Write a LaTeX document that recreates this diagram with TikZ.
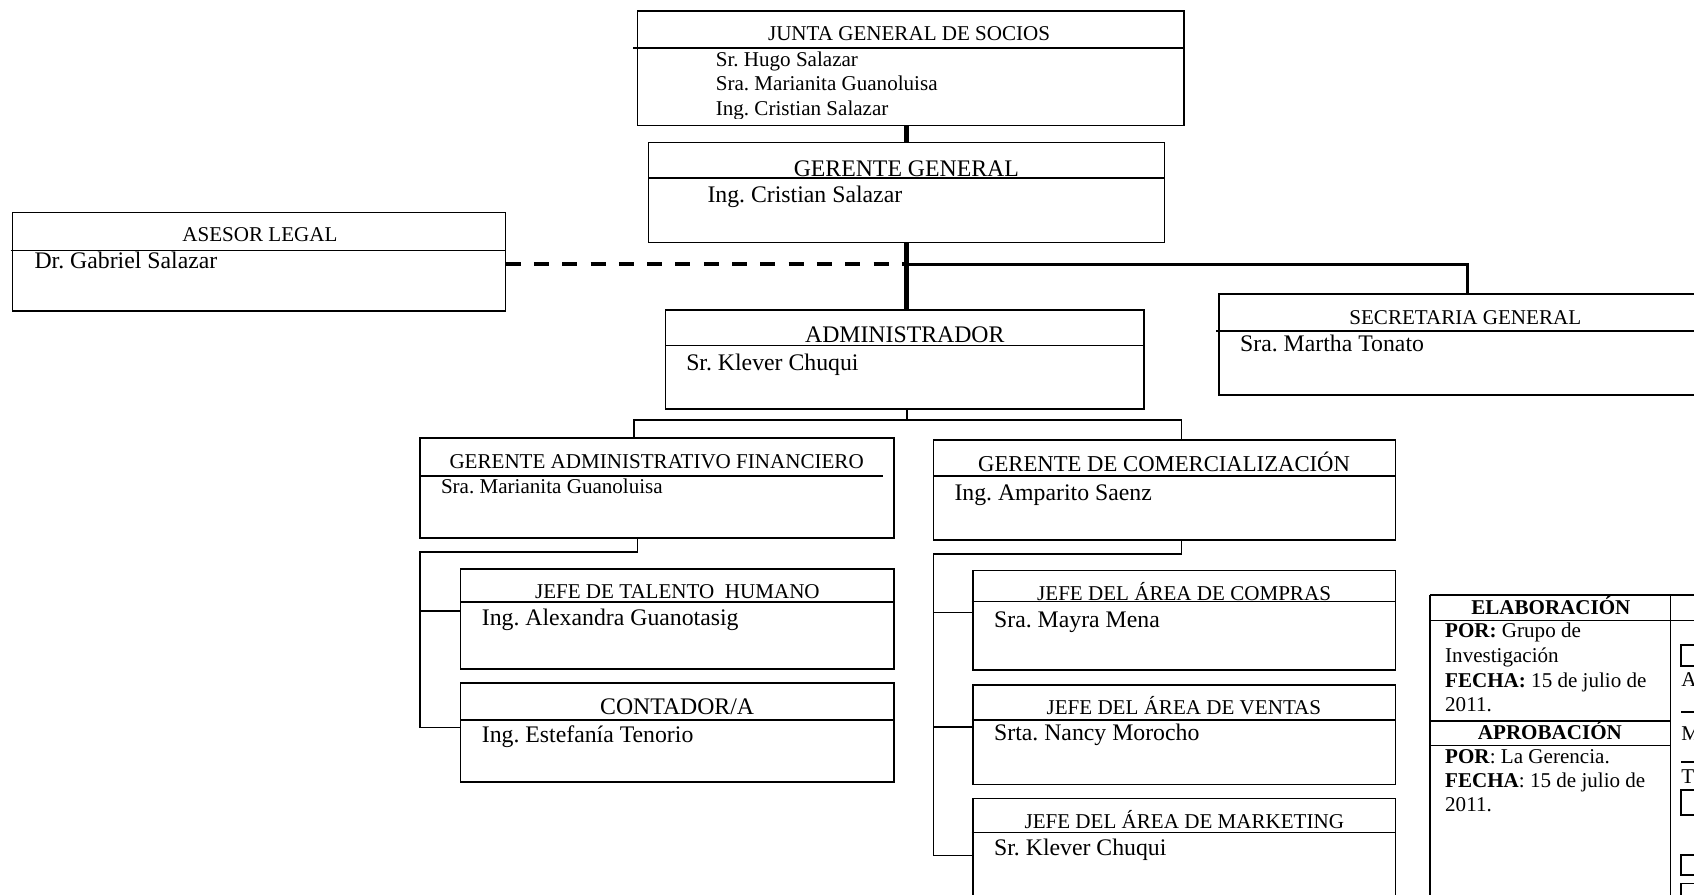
\documentclass[tikz,border=0pt]{standalone}
\usepackage{fontspec}
\setmainfont{Liberation Serif}
\usetikzlibrary{fit}
\frenchspacing
\newcommand\fsA{\fontsize{19.5}{22.4}\selectfont\frenchspacing}
\newcommand\fsB{\fontsize{22}{25.3}\selectfont\frenchspacing}
\newcommand\fsC{\fontsize{21}{24.2}\selectfont\frenchspacing}
\begin{document}
\begin{tikzpicture}[x=1pt,y=-1pt,
  orgbox/.style={draw, line width=1.5pt, inner sep=0pt, outer sep=0pt},
  rule/.style={line width=1.5pt},
  thinlink/.style={line width=1.5pt, line join=miter},
  heavylink/.style={line width=4.3pt},
  medlink/.style={line width=2.7pt, line join=miter},
  dashlink/.style={line width=3.7pt, dash pattern=on 13.9pt off 12.3pt},
  ttl/.style={anchor=base, inner sep=0pt, font=\fsA},
  ttlB/.style={anchor=base, inner sep=0pt, font=\fsB},
  nm/.style={anchor=base west, inner sep=0pt, font=\fsA},
  nmB/.style={anchor=base west, inner sep=0pt, font=\fsB},
  tbl/.style={line width=1.5pt}]
\useasboundingbox (0,0) rectangle (1568,828);
\fill[white] (0,0) rectangle (1568,828);
\clip (0,0) rectangle (1568,828);

% ---------- boxes ----------
\node[orgbox, fit={(589.9,10.2) (1095.9,116.3)}] (junta) {};
\node[orgbox, fit={(600.1,132) (1077.7,224.3)}] (gg) {};
\node[orgbox, fit={(11.7,196.8) (468,287.9)}] (asesor) {};
\node[orgbox, fit={(616.1,286.9) (1058.9,378.6)}] (admin) {};
\node[orgbox, fit={(1128.3,272) (1588.7,365.6)}] (sec) {};
\node[orgbox, fit={(389,405.6) (827.5,498)}] (gaf) {};
\node[orgbox, fit={(863.9,407.3) (1291.8,499.8)}] (gc) {};
\node[orgbox, fit={(426.4,526.7) (827.5,619)}] (jth) {};
\node[orgbox, fit={(426.4,632) (827.5,724)}] (cont) {};
\node[orgbox, fit={(900.9,528.2) (1291.8,620.1)}] (jac) {};
\node[orgbox, fit={(900.9,634) (1291.8,726)}] (jav) {};
\node[orgbox, fit={(900.9,739) (1291.8,870)}] (jam) {};

% ---------- dividers ----------
\draw[rule] (586.2,44.7) -- (junta.east |- 0,44.7);
\draw[rule] (gg.west |- 0,165) -- (gg.east |- 0,165);
\draw[rule] (9.9,232) -- (asesor.east |- 0,232);
\draw[rule] (admin.west |- 0,319.9) -- (admin.east |- 0,319.9);
\draw[rule] (1126,306.4) -- (1600,306.4);
\draw[rule] (gaf.west |- 0,440.6) -- (817,440.6);
\draw[rule] (gc.west |- 0,440.3) -- (gc.east |- 0,440.3);
\draw[rule] (jth.west |- 0,557) -- (jth.east |- 0,557);
\draw[rule] (cont.west |- 0,666.4) -- (cont.east |- 0,666.4);
\draw[rule] (899.4,556.9) -- (jac.east |- 0,556.9);
\draw[rule] (899.4,666.4) -- (jav.east |- 0,666.4);
\draw[rule] (899.4,770.7) -- (jam.east |- 0,770.7);

% ---------- texts ----------
\node[ttl] (t-junta) at (841.5,37.6) {JUNTA GENERAL DE SOCIOS};
\begin{scope}
\clip (589,46) rectangle (1096,109.5);
\node[nm] (n-junta1) at (662.4,61.5) {Sr. Hugo Salazar};
\node[nm] (n-junta2) at (662.4,84) {Sra. Marianita Guanoluisa};
\node[nm] (n-junta3) at (662.4,106.5) {Ing. Cristian Salazar};
\end{scope}
\node[ttlB] (t-gg) at (838.9,163) {GERENTE GENERAL};
\node[nmB] (n-gg) at (654.7,187.3) {Ing. Cristian Salazar};
\node[ttl] (t-asesor) at (240.6,223.7) {ASESOR LEGAL};
\node[nmB] (n-asesor) at (31.8,248.4) {Dr. Gabriel Salazar};
\node[ttlB] (t-admin) at (837.5,317.2) {ADMINISTRADOR};
\node[nmB] (n-admin) at (635,343) {Sr. Klever Chuqui};
\node[ttl] (t-sec) at (1356.3,300) {SECRETARIA GENERAL};
\node[nmB] (n-sec) at (1147.7,325) {Sra. Martha Tonato};
\node[ttl] (t-gaf) at (607.8,433.5) {GERENTE ADMINISTRATIVO FINANCIERO};
\node[nm] (n-gaf) at (408,456.6) {Sra. Marianita Guanoluisa};
\node[anchor=base, inner sep=0pt, font=\fsC] (t-gc) at (1077.5,436.6) {GERENTE DE COMERCIALIZACIÓN};
\node[nmB] (n-gc) at (883.3,463.4) {Ing. Amparito Saenz};
\node[ttl] (t-jth) at (627,553.8) {JEFE DE TALENTO\ \ HUMANO};
\node[nmB] (n-jth) at (445.8,579.4) {Ing. Alexandra Guanotasig};
\node[ttlB] (t-cont) at (626.8,661.8) {CONTADOR/A};
\node[nmB] (n-cont) at (445.8,687) {Ing. Estefanía Tenorio};
\node[ttl] (t-jac) at (1096,555.4) {JEFE DEL ÁREA DE COMPRAS};
\node[nmB] (n-jac) at (920,581) {Sra. Mayra Mena};
\node[ttl] (t-jav) at (1095.8,661) {JEFE DEL ÁREA DE VENTAS};
\node[nmB] (n-jav) at (920,685.6) {Srta. Nancy Morocho};
\node[ttl] (t-jam) at (1096.2,766.7) {JEFE DEL ÁREA DE MARKETING};
\node[nmB] (n-jam) at (920,792) {Sr. Klever Chuqui};

% ---------- connectors ----------
\coordinate (hub) at (838.9,244.7);
\draw[heavylink] (gg.north) -- (gg.north |- junta.south);
\draw[heavylink] (gg.south) -- (gg.south |- admin.north);
\draw[medlink] (hub) -| (sec.north);
\draw[dashlink] (asesor.east |- hub) -- (hub);

\coordinate (abus) at (839.8,388.7);
\coordinate (gafin) at (587,388.7);
\coordinate (gcin) at (1093.7,388.7);
\draw[thinlink] (abus |- admin.south) -- (abus);
\draw[thinlink] (gafin |- gaf.north) -- (gafin) -- (gcin) -- (gcin |- gc.north);

\coordinate (gafo) at (590,511);
\coordinate (gafbus) at (389,511);
\coordinate (b1) at (389,565.5);
\coordinate (b2) at (389,673.5);
\draw[thinlink] (gafo |- gaf.south) -- (gafo) -- (gafbus) -- (b2) -- (b2 -| cont.west);
\draw[thinlink] (b1) -- (b1 -| jth.west);

\coordinate (gco) at (1093.7,512.8);
\coordinate (gcbus) at (864,512.8);
\coordinate (c1) at (864,566.8);
\coordinate (c2) at (864,673.2);
\coordinate (c3) at (864,792);
\draw[thinlink] (gco |- gc.south) -- (gco) -- (gcbus) -- (c3) -- (c3 -| jam.west);
\draw[thinlink] (c1) -- (c1 -| jac.west);
\draw[thinlink] (c2) -- (c2 -| jav.west);

% ---------- table ----------
\draw[tbl] (1323.6,550.7) -- (1600,550.7);
\draw[tbl] (1323.6,574.5) -- (1600,574.5);
\draw[tbl] (1323.6,550.7) -- (1323.6,900);
\draw[tbl] (1546.3,550.7) -- (1546.3,900);
\draw[tbl] (1323.6,667.3) -- (1546.3,667.3);
\draw[tbl] (1323.6,690.2) -- (1546.3,690.2);
\node[ttl] (t-elab) at (1435.5,569.2) {\textbf{ELABORACIÓN}};
\node[nm] (e1) at (1337.5,590) {\textbf{POR:} Grupo de};
\node[nm] (e2) at (1337.5,613) {Investigación};
\node[nm] (e3) at (1337.5,636) {\textbf{FECHA:} 15 de julio de};
\node[nm] (e4) at (1337.5,659) {2011.};
\node[ttl] (t-aprob) at (1434.6,684.3) {\textbf{APROBACIÓN}};
\node[nm] (a1) at (1337.5,706.5) {\textbf{POR}: La Gerencia.};
\node[nm] (a2) at (1337.5,728.7) {\textbf{FECHA}: 15 de julio de};
\node[nm] (a3) at (1337.5,751.3) {2011.};
% clipped right column
\draw[tbl] (1556,597) rectangle (1600,616.5);
\node[nm] (r1) at (1556,635) {A};
\draw[line width=1.9pt] (1556,658.7) -- (1600,658.7);
\node[nm] (r2) at (1556,685.5) {M};
\draw[line width=1.9pt] (1556,705) -- (1600,705);
\node[nm] (r3) at (1556,725) {T};
\draw[tbl] (1556,731.2) rectangle (1600,754.3);
\draw[tbl] (1556,791.4) rectangle (1600,810);
\draw[tbl] (1556,817.6) rectangle (1600,860);
\end{tikzpicture}
\end{document}
